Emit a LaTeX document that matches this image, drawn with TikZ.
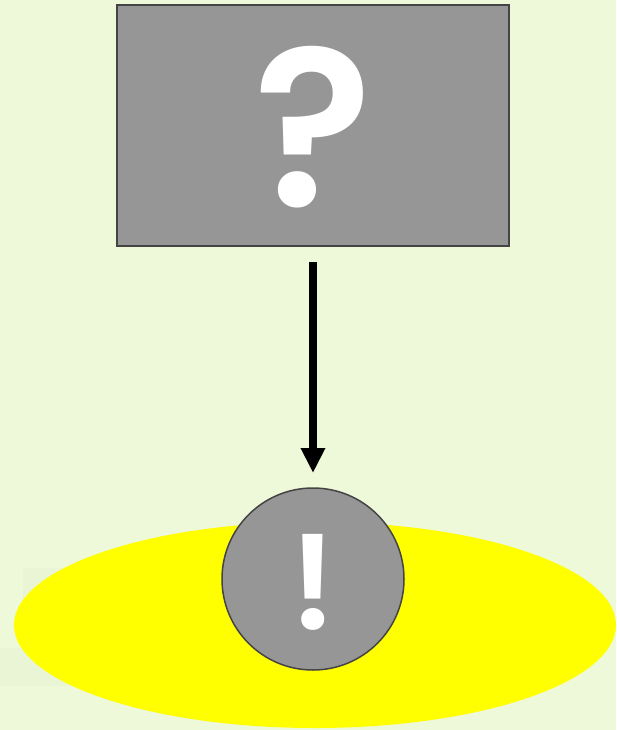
\documentclass[tikz,border=0pt]{standalone}
\usepackage{fontspec}
\newfontfamily\markfont{Poppins SemiBold}
\usetikzlibrary{arrows.meta}
\definecolor{bg}{HTML}{EEF9D9}
\definecolor{boxgray}{HTML}{969696}
\definecolor{edgegray}{HTML}{444444}
\definecolor{faint}{HTML}{E9F5D5}
\definecolor{spot}{HTML}{FFFF00}
\tikzset{
  graybox/.style={fill=boxgray,draw=edgegray,line width=1.5pt},
  bigmark/.style={text=white,inner sep=0pt},
  flow/.style={line width=8pt,-{Triangle[width=23pt,length=25pt]}}
}
\begin{document}
\begin{tikzpicture}[x=1pt,y=-1pt]
\fill[bg] (0,0) rectangle (616,730);
\useasboundingbox (0,0) rectangle (616,730);
\fill[faint] (23,568) rectangle (140,605);
\fill[faint] (0,648) rectangle (140,686);
\fill[spot] (315,625) ellipse [x radius=301, y radius=103];
\node[graybox,minimum width=392pt,minimum height=241pt,inner sep=0pt] (q) at (313,125.5) {};
\node[bigmark,font=\markfont\fontsize{222}{222}\selectfont] (qt) at (313,127) {?};
\node[graybox,circle,minimum size=182pt,inner sep=0pt] (e) at (313,579) {};
\node[bigmark,font=\markfont\fontsize{134}{134}\selectfont] (et) at (313,582) {!};
\coordinate (s) at (313,262);
\coordinate (t) at (313,473);
\draw[flow] (s) -- (t);
\end{tikzpicture}
\end{document}
